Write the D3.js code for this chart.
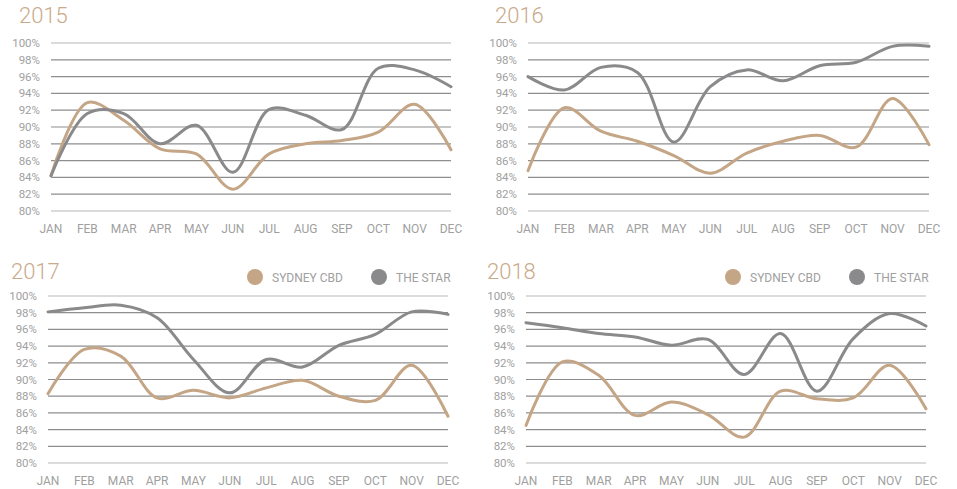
<!DOCTYPE html>
<html>
<head>
<meta charset="utf-8">
<script src="https://cdn.jsdelivr.net/npm/d3@7"></script>
<style>
  body { margin: 0; background: #fff; }
  svg text { font-family: Roboto, "Noto Sans", sans-serif; }
</style>
</head>
<body>
<svg id="chart" width="957" height="489"></svg>
<script>
var months = ["JAN","FEB","MAR","APR","MAY","JUN","JUL","AUG","SEP","OCT","NOV","DEC"];
var yTicks = [80,82,84,86,88,90,92,94,96,98,100];
var seriesNames = ["SYDNEY CBD","THE STAR"];

var years = ["2015","2016","2017","2018"];
var sydney2015 = [84.2,92.9,90.8,87.4,86.8,82.6,86.8,88.0,88.4,89.4,92.7,87.3];
var star2015   = [84.2,91.6,91.6,88.0,90.2,84.6,92.1,91.4,89.7,97.0,96.8,94.8];
var sydney2016 = [84.8,92.3,89.5,88.3,86.6,84.5,86.9,88.3,89.0,87.6,93.4,87.9];
var star2016   = [96.0,94.4,97.1,96.5,88.2,94.8,96.8,95.5,97.3,97.7,99.6,99.6];
var sydney2017 = [88.3,93.6,92.8,87.8,88.7,87.8,89.0,89.9,88.0,87.5,91.7,85.6];
var star2017   = [98.1,98.6,98.9,97.4,92.4,88.4,92.4,91.5,94.1,95.4,98.1,97.8];
var sydney2018 = [84.5,92.1,90.5,85.7,87.3,85.8,83.1,88.6,87.7,87.8,91.7,86.5];
var star2018   = [96.8,96.2,95.5,95.1,94.1,94.8,90.6,95.5,88.6,94.9,97.9,96.4];

var colors = ["#c4a585","#8a8a8c"];

// panel layout
var panels = [
  {year:"2015", a:sydney2015, b:star2015, x0:51,  x1:451, top:43,  bot:211, tx:19,  ty:23,  legend:false},
  {year:"2016", a:sydney2016, b:star2016, x0:528, x1:929, top:43,  bot:211, tx:495, ty:23,  legend:false},
  {year:"2017", a:sydney2017, b:star2017, x0:48,  x1:448, top:296, bot:463, tx:11,  ty:279, legend:true, lx:255},
  {year:"2018", a:sydney2018, b:star2018, x0:526, x1:926, top:296, bot:463, tx:487, ty:279, legend:true, lx:733}
];

var svg = d3.select("#chart");

panels.forEach(function(p) {
  var g = svg.append("g");
  var x = d3.scalePoint().domain(months).range([p.x0, p.x1]);
  var y = d3.scaleLinear().domain([80, 100]).range([p.bot, p.top]);

  g.append("text")
    .attr("x", p.tx).attr("y", p.ty)
    .attr("font-size", 22)
    .attr("font-weight", 300)
    .attr("fill", "#c9aa8b")
    .text(p.year);

  g.selectAll(".grid").data(yTicks).enter().append("line")
    .attr("x1", p.x0).attr("x2", p.x1)
    .attr("y1", function(d) { return y(d) })
    .attr("y2", function(d) { return y(d) })
    .attr("stroke", function(d) { return (d == 80 || d == 100) ? "#b8b8b8" : "#8e8e8e" })
    .attr("stroke-width", 1.2);

  g.selectAll(".yl").data(yTicks).enter().append("text")
    .attr("x", p.x0 - 11)
    .attr("y", function(d) { return y(d) + 4 })
    .attr("text-anchor", "end")
    .attr("font-size", 11.5)
    .attr("fill", "#a0a0a0")
    .text(function(d) { return d + "%" });

  g.selectAll(".xl").data(months).enter().append("text")
    .attr("x", function(d) { return x(d) })
    .attr("y", p.bot + 22)
    .attr("text-anchor", "middle")
    .attr("font-size", 12)
    .attr("fill", "#a0a0a0")
    .text(function(d) { return d });

  var line = d3.line()
    .x(function(d, i) { return x(months[i]) })
    .y(function(d) { return y(d) })
    .curve(d3.curveCatmullRom.alpha(0.5));

  [p.a, p.b].forEach(function(vals, k) {
    g.append("path")
      .attr("d", line(vals))
      .attr("fill", "none")
      .attr("stroke", colors[k])
      .attr("stroke-width", 3)
      .attr("stroke-linecap", "round");
  });

  if (p.legend) {
    var lg = g.selectAll(".lg").data(seriesNames).enter().append("g")
      .attr("transform", function(d, i) { return "translate(" + (p.lx + i * 124) + "," + (p.ty - 2) + ")" });
    lg.append("circle").attr("r", 8).attr("fill", function(d, i) { return colors[i] });
    lg.append("text")
      .attr("x", 17).attr("y", 4.5)
      .attr("font-size", 12)
      .attr("fill", "#a0a0a0")
      .text(function(d) { return d });
  }
});
</script>
</body>
</html>
